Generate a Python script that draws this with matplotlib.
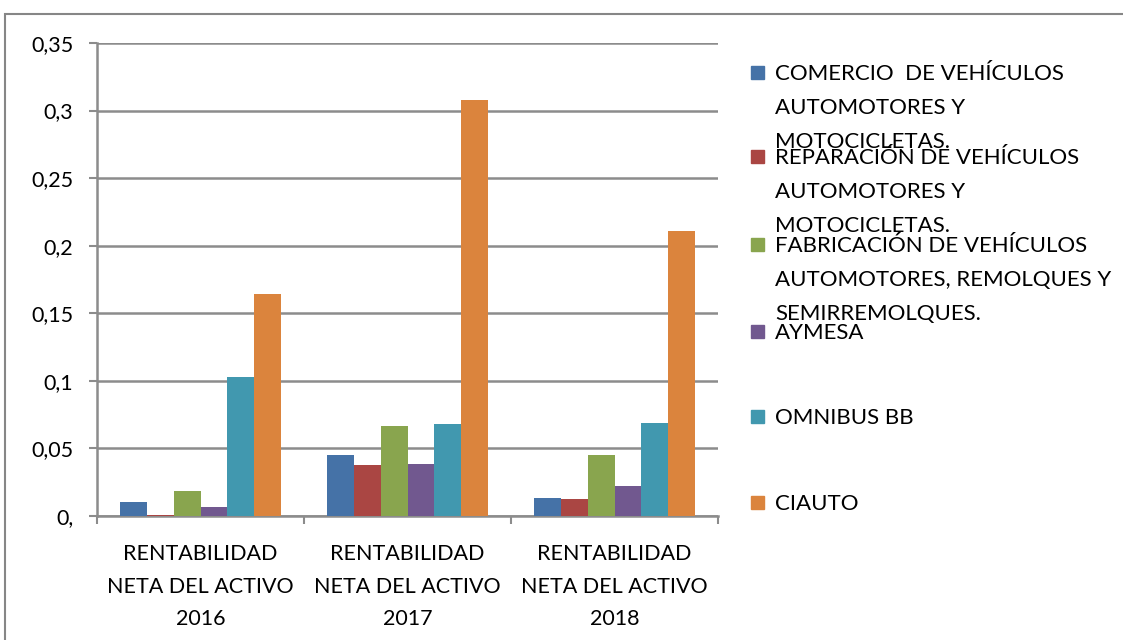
import matplotlib.pyplot as plt
import matplotlib.patches as mpatches
import numpy as np

categories = ['RENTABILIDAD\nNETA DEL ACTIVO\n2016',
              'RENTABILIDAD\nNETA DEL ACTIVO\n2017',
              'RENTABILIDAD\nNETA DEL ACTIVO\n2018']
series_names = ['COMERCIO  DE VEHÍCULOS\nAUTOMOTORES Y\nMOTOCICLETAS.',
                'REPARACIÓN DE VEHÍCULOS\nAUTOMOTORES Y\nMOTOCICLETAS.',
                'FABRICACIÓN DE VEHÍCULOS\nAUTOMOTORES, REMOLQUES Y\nSEMIRREMOLQUES.',
                'AYMESA',
                'OMNIBUS BB',
                'CIAUTO']
comercio = [0.0104, 0.0450, 0.0133]
reparacion = [0.0010, 0.0380, 0.0126]
fabricacion = [0.0185, 0.0668, 0.0453]
aymesa = [0.0067, 0.0387, 0.0222]
omnibus = [0.1030, 0.0682, 0.0688]
ciauto = [0.1645, 0.3080, 0.2110]
series = [comercio, reparacion, fabricacion, aymesa, omnibus, ciauto]
colors = ['#4572a7', '#aa4643', '#89a54e', '#71588f', '#4198af', '#db843d']
ytick_vals = [0, 0.05, 0.1, 0.15, 0.2, 0.25, 0.3, 0.35]
ytick_labels = ['0,', '0,05', '0,1', '0,15', '0,2', '0,25', '0,3', '0,35']

plt.rcParams['font.family'] = ['Lato', 'DejaVu Sans']

fig = plt.figure(figsize=(11.23, 6.4), dpi=100)
W, H = 1123, 640
ax = fig.add_axes([97 / W, 1 - 516 / H, (718 - 97) / W, (516 - 43) / H])

# outer chart frame
fig.patches.append(mpatches.Rectangle((5 / W, -0.01), 1.2, 1 - 14 / H + 0.01,
                                      transform=fig.transFigure, fill=False,
                                      edgecolor='#868686', linewidth=1.5))

x = np.arange(len(categories))
bw = 0.13
for i, vals in enumerate(series):
    ax.bar(x + (i - 2.5) * bw, vals, width=bw, color=colors[i], zorder=3)

ax.set_xlim(-0.5, 2.5)
ax.set_ylim(0, 0.35)
ax.set_yticks(ytick_vals)
ax.set_yticklabels(ytick_labels, fontsize=15.5)
ax.yaxis.grid(True, color='#8c8c8c', linewidth=1.8, zorder=0)
ax.set_xticks([-0.5, 0.5, 1.5, 2.5])
ax.set_xticklabels([])
ax.set_xticks(x, minor=True)
ax.set_xticklabels(categories, minor=True, fontsize=15.5, linespacing=1.8)
ax.tick_params(axis='x', which='minor', length=0, pad=20)
ax.tick_params(axis='x', which='major', length=6, width=1.5, color='#8c8c8c')
ax.tick_params(axis='y', length=6, width=1.5, color='#8c8c8c', pad=11)
for s in ['top', 'right']:
    ax.spines[s].set_visible(False)
for s in ['left', 'bottom']:
    ax.spines[s].set_color('#8c8c8c')
    ax.spines[s].set_linewidth(1.8)

# legend drawn by hand (Excel-style wrapped entries overlap as in the original)
leg_y = [73, 157, 245, 332, 417, 503]
for name, c, yy in zip(series_names, colors, leg_y):
    fig.patches.append(mpatches.Rectangle((751 / W, 1 - (yy + 6) / H), 13 / W, 13 / H,
                                          transform=fig.transFigure, color=c))
    fig.text(775 / W, 1 - (yy - 9) / H, name, fontsize=16, va='top', ha='left',
             linespacing=1.86)

fig.savefig('out.png', dpi=100)
